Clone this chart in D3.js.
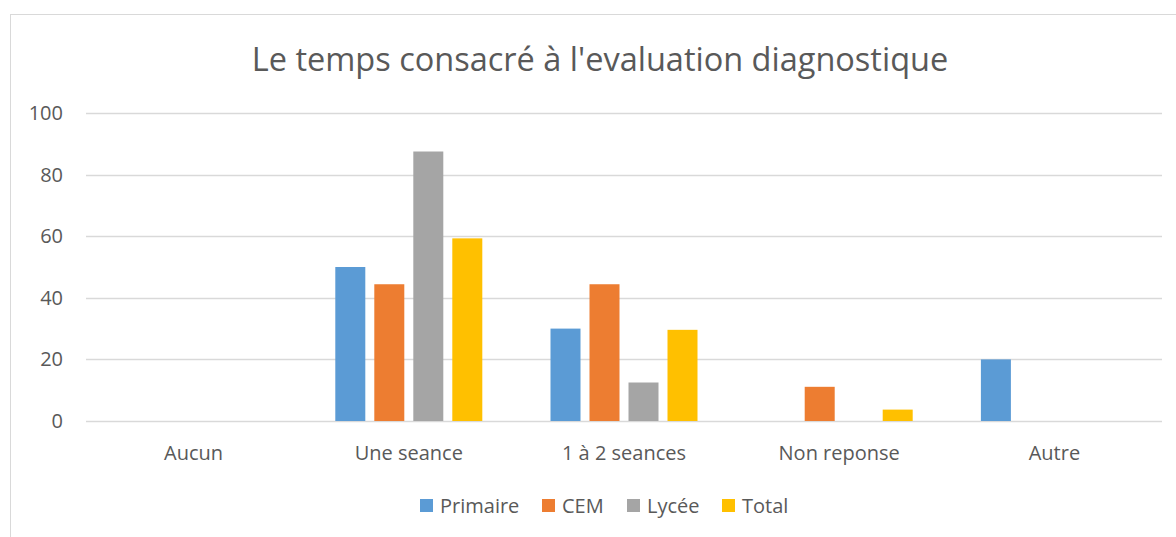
<!DOCTYPE html>
<html><head><meta charset="utf-8">
<script src="https://cdn.jsdelivr.net/npm/d3@7"></script>
<style>body{margin:0;background:#fff}svg{display:block}text{font-family:"Open Sans",sans-serif;fill:#595959}</style>
</head><body><svg id="c" width="1176" height="537"></svg>
<script>
const categories = ["Aucun", "Une seance", "1 à 2 seances", "Non reponse", "Autre"];
const seriesNames = ["Primaire", "CEM", "Lycée", "Total"];
const primaire = [0, 50, 30, 0, 20];
const cem = [0, 44.4, 44.4, 11.1, 0];
const lycee = [0, 87.5, 12.5, 0, 0];
const total = [0, 59.3, 29.6, 3.7, 0];
const yTicks = [0, 20, 40, 60, 80, 100];
const colors = ["#5B9BD5", "#ED7D31", "#A5A5A5", "#FFC000"];
const seriesValues = [primaire, cem, lycee, total];

const svg = d3.select("#c");
// chart border
svg.append("rect").attr("x", 10.5).attr("y", 14.5).attr("width", 1200).attr("height", 600)
  .attr("fill", "none").attr("stroke", "#d9d9d9");

svg.append("text").attr("x", 600).attr("y", 71).attr("text-anchor", "middle")
  .style("font-size", "32.5px").text("Le temps consacré à l'evaluation diagnostique");

const x0 = d3.scaleBand().domain(categories).range([86, 1162]).padding(0);
const groupW = 147;
const x1 = d3.scaleBand().domain(seriesNames)
  .range([(x0.bandwidth() - groupW) / 2, (x0.bandwidth() + groupW) / 2])
  .paddingInner(9 / 39).paddingOuter(0);
const y = d3.scaleLinear().domain([0, 100]).range([421, 113]);

// gridlines
svg.append("g").selectAll("line").data(yTicks).join("line")
  .attr("x1", 86).attr("x2", 1162)
  .attr("y1", d => Math.round(y(d)) + 0.5).attr("y2", d => Math.round(y(d)) + 0.5)
  .attr("stroke", "#d9d9d9").attr("stroke-width", 1.3);

// y labels
svg.append("g").selectAll("text").data(yTicks).join("text")
  .attr("x", 63).attr("y", d => y(d) + 7).attr("text-anchor", "end")
  .style("font-size", "20px").text(d => d);

// bars
const g = svg.append("g");
categories.forEach((c, i) => {
  seriesNames.forEach((s, j) => {
    const v = seriesValues[j][i];
    if (!v) return;
    g.append("rect")
      .attr("x", x0(c) + x1(s)).attr("width", x1.bandwidth())
      .attr("y", y(v)).attr("height", y(0) - y(v))
      .attr("fill", colors[j]);
  });
});

// category labels
svg.append("g").selectAll("text").data(categories).join("text")
  .attr("x", d => x0(d) + x0.bandwidth() / 2).attr("y", 460).attr("text-anchor", "middle")
  .style("font-size", "20px").text(d => d);

// legend
const legendX = [420, 542, 627, 722];
const lg = svg.append("g");
seriesNames.forEach((s, j) => {
  lg.append("rect").attr("x", legendX[j]).attr("y", 499).attr("width", 13).attr("height", 13).attr("fill", colors[j]);
  lg.append("text").attr("x", legendX[j] + 20).attr("y", 512.5).style("font-size", "20px").text(s);
});
</script></body></html>
